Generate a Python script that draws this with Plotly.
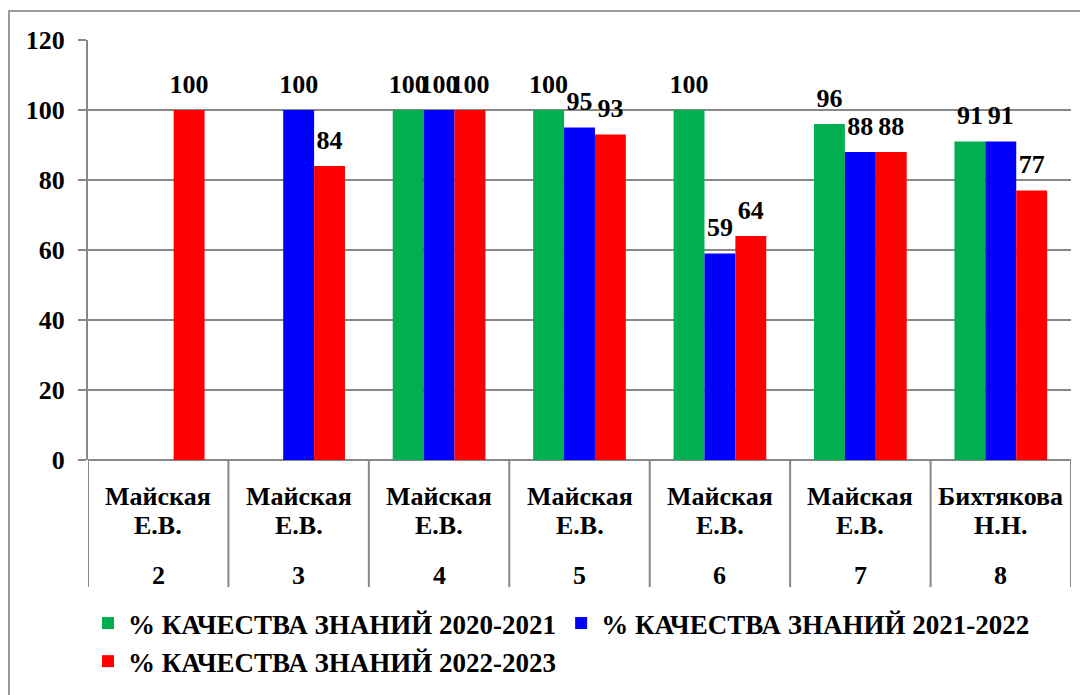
import plotly.graph_objects as go

names = ["Майская", "Майская", "Майская", "Майская", "Майская", "Майская", "Бихтякова"]
initials = ["Е.В.", "Е.В.", "Е.В.", "Е.В.", "Е.В.", "Е.В.", "Н.Н."]
grades = ["2", "3", "4", "5", "6", "7", "8"]

q_2020 = [None, None, 100, 100, 100, 96, 91]
q_2021 = [None, 100, 100, 95, 59, 88, 91]
q_2022 = [100, 84, 100, 93, 64, 88, 77]

series = [
    ("% КАЧЕСТВА ЗНАНИЙ 2020-2021", q_2020, "#00B050"),
    ("% КАЧЕСТВА ЗНАНИЙ 2021-2022", q_2021, "#0000FF"),
    ("% КАЧЕСТВА ЗНАНИЙ 2022-2023", q_2022, "#FF0000"),
]

serif = "Liberation Serif, Times New Roman, serif"
font = dict(family=serif, size=26, color="black", weight="bold")
grid = "#888888"

W, H = 1080, 687
L, R, T, B = 80, 17, 32, 235
pw, ph = W - L - R, H - T - B

xs = list(range(len(grades)))
fig = go.Figure()
for k, (name, vals, color) in enumerate(series):
    fig.add_trace(go.Bar(
        x=xs, y=vals, name=name, offsetgroup=str(k),
        marker=dict(color=color, line=dict(width=0)),
    ))
# value labels, lifted above the bar tops
for k, (name, vals, color) in enumerate(series):
    fig.add_trace(go.Scatter(
        x=xs, y=vals, offsetgroup=str(k), mode="markers+text",
        marker=dict(size=16, opacity=0),
        text=[("" if v is None else str(v)) for v in vals],
        textposition="top center", textfont=font, cliponaxis=False,
        showlegend=False, hoverinfo="skip",
    ))

# category labels under the axis
for i in xs:
    for txt, py in ((names[i], 37), (initials[i], 65), (grades[i], 115)):
        fig.add_annotation(x=i, y=-py / ph, xref="x", yref="paper", text=txt,
                           showarrow=False, font=font, yanchor="middle")

# category separators under the axis
for i in range(len(grades) + 1):
    fig.add_shape(type="line", xref="x", yref="paper",
                  x0=i - 0.5, x1=i - 0.5, y0=0, y1=-127 / ph,
                  line=dict(color=grid, width=2))

# outer frame
fig.add_shape(type="rect", xref="paper", yref="paper",
              x0=-(L - 1) / pw, x1=1 + 40 / pw, y0=1 + (T - 3) / ph, y1=-(B + 40) / ph,
              line=dict(color="#999999", width=2))

fig.update_layout(
    width=W, height=H,
    margin=dict(l=L, r=R, t=T, b=B),
    paper_bgcolor="white", plot_bgcolor="white",
    font=font,
    barmode="group", bargap=0.34, bargroupgap=0,
    scattermode="group", scattergap=0.34,
    showlegend=True,
    legend=dict(orientation="h", xref="paper", x=0.0, xanchor="left",
                yref="container", y=1 - 591 / H, yanchor="top",
                font=dict(family=serif, size=27, color="black", weight="bold"),
                itemwidth=30, tracegroupgap=0),
    xaxis=dict(
        range=[-0.5, len(grades) - 0.5],
        showgrid=False, showline=False, ticks="", zeroline=False,
        showticklabels=False,
    ),
    yaxis=dict(
        range=[0, 120], dtick=20,
        showgrid=True, gridcolor=grid, gridwidth=2,
        showline=True, linecolor=grid, linewidth=2,
        ticks="outside", ticklen=8, tickcolor=grid, tickwidth=2,
        zeroline=True, zerolinecolor=grid, zerolinewidth=2,
        tickfont=font, ticklabelstandoff=8,
    ),
)

fig.write_html("out.html")
